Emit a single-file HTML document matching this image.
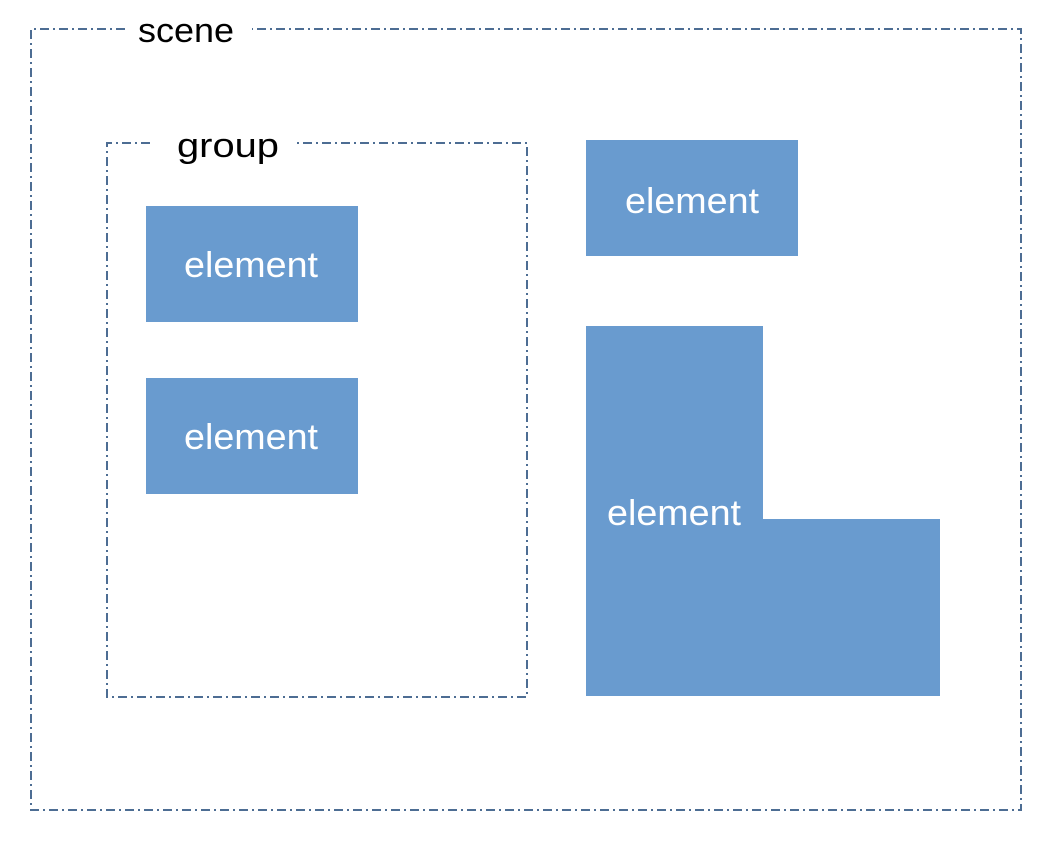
<!DOCTYPE html>
<html><head><meta charset="utf-8"><style>html,body{margin:0;padding:0;background:#fff}svg{display:block}</style></head>
<body>
<svg width="1052" height="842" viewBox="0 0 1052 842" xmlns="http://www.w3.org/2000/svg" font-family="Liberation Sans, sans-serif">
<g fill="none" stroke="#4d6d93" stroke-width="2" stroke-dasharray="9 4 2 4">
<path d="M125 29 H31 V810 H1021 V29 H252"/>
<path d="M150 143 H107 V697 H527 V143 H297"/>
</g>
<text x="138" y="42" font-size="34" fill="#000" textLength="96" lengthAdjust="spacingAndGlyphs">scene</text>
<text x="177" y="157" font-size="34" fill="#000" textLength="102" lengthAdjust="spacingAndGlyphs">group</text>
<g fill="#699bcf">
<rect x="146" y="206" width="212" height="116"/>
<rect x="146" y="378" width="212" height="116"/>
<rect x="586" y="140" width="212" height="116"/>
<path d="M586 326 H763 V519 H940 V696 H586 Z"/>
</g>
<g fill="#fff" font-size="36">
<text x="184" y="277" textLength="134" lengthAdjust="spacingAndGlyphs">element</text>
<text x="184" y="449" textLength="134" lengthAdjust="spacingAndGlyphs">element</text>
<text x="625" y="213" textLength="134" lengthAdjust="spacingAndGlyphs">element</text>
<text x="607" y="525" textLength="134" lengthAdjust="spacingAndGlyphs">element</text>
</g>
</svg>
</body></html>
